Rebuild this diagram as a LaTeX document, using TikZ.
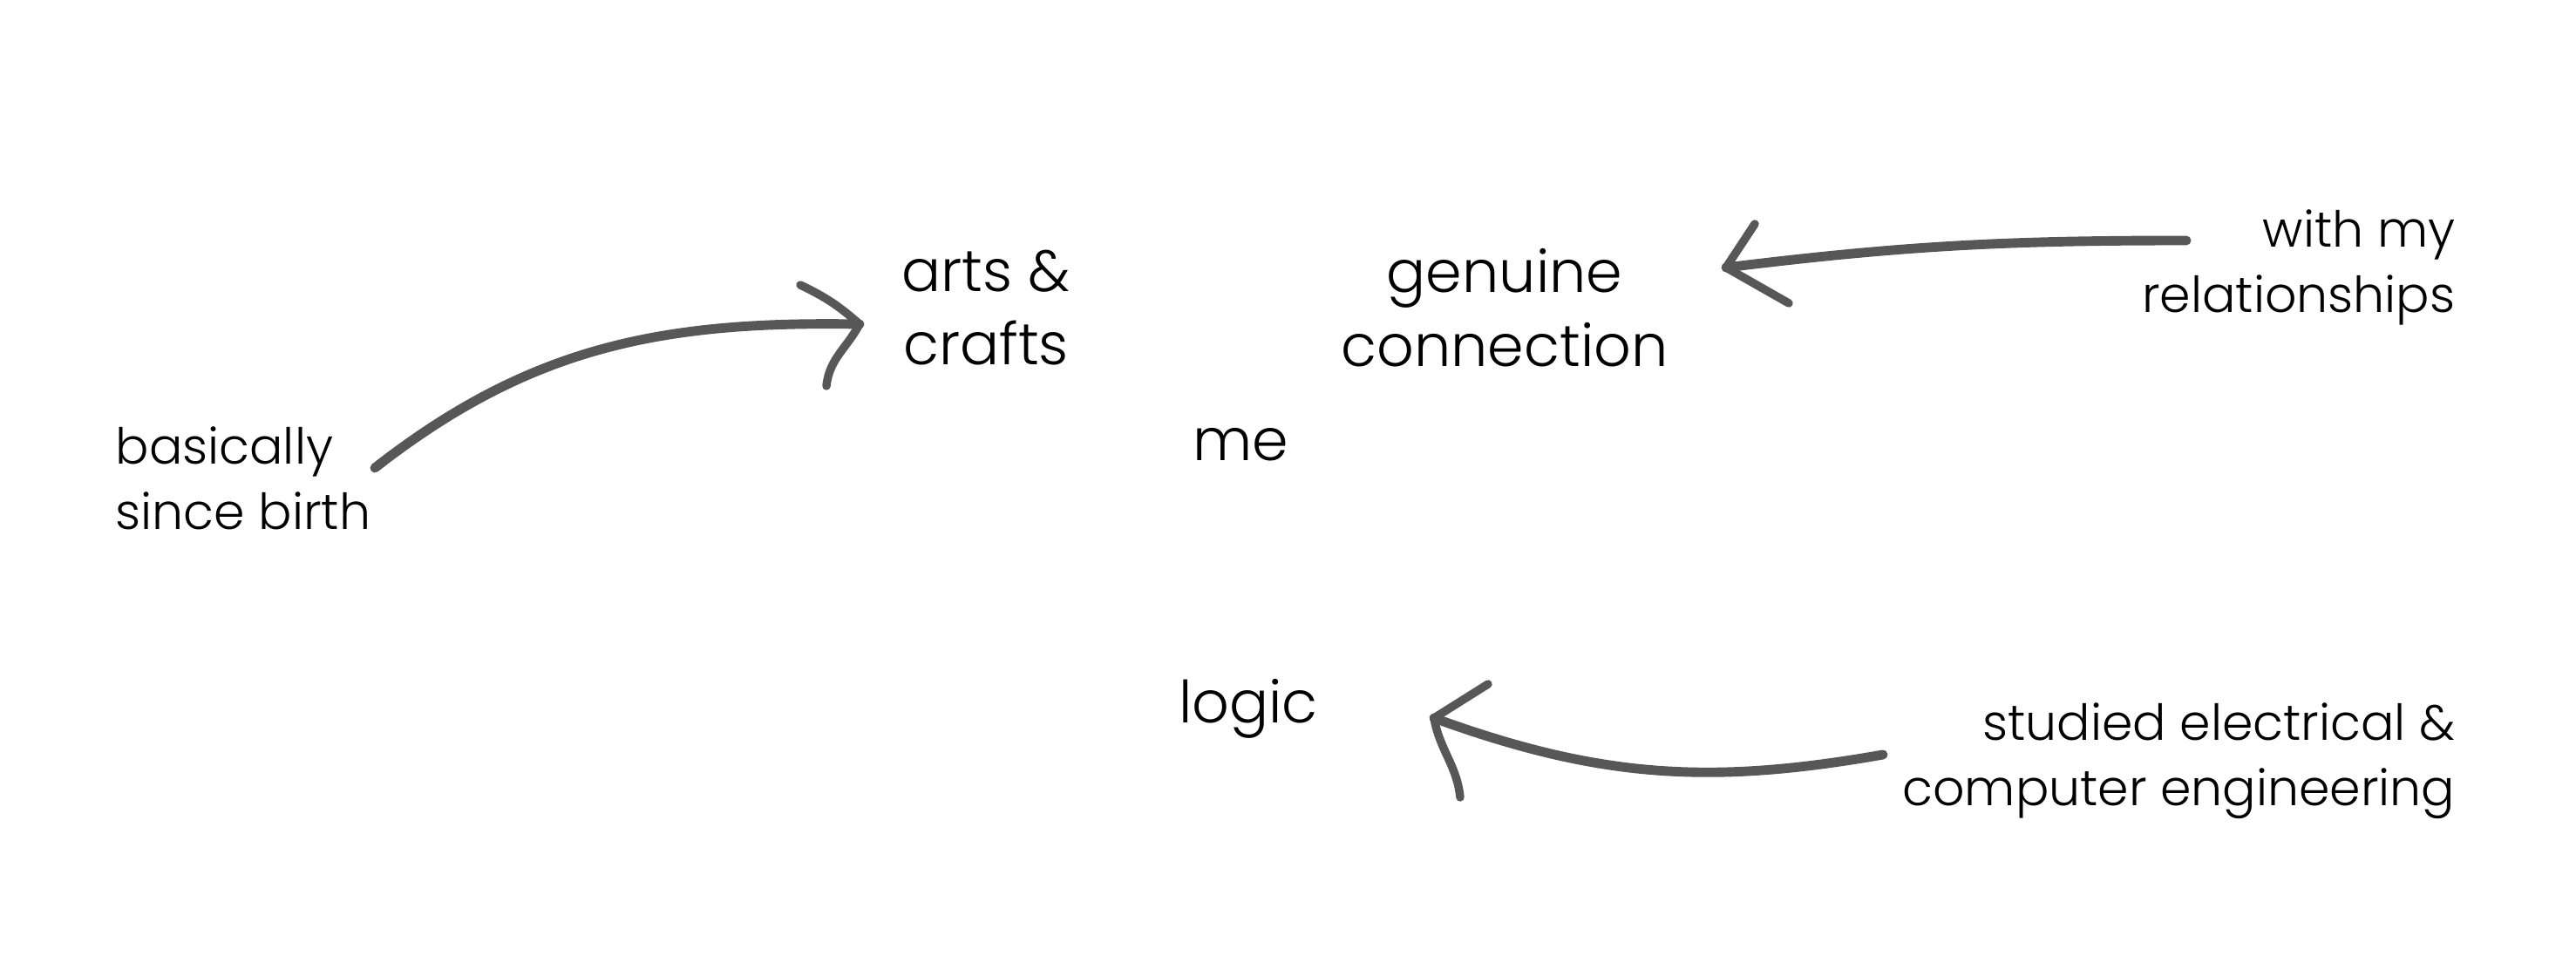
\documentclass[tikz,border=0pt]{standalone}
\usepackage{fontspec}
\IfFontExistsTF{Poppins Light}{\setmainfont{Poppins Light}}{\setmainfont{Poppins}}
\definecolor{pen}{HTML}{575757}

\begin{document}
\begin{tikzpicture}[
    word/.style={font=\fontsize{19}{24}\selectfont, align=center, inner sep=0pt},
    note/.style={font=\fontsize{16.2}{21.4}\selectfont, inner sep=0pt},
    sketch/.style={pen, line width=3.1pt, line cap=round, line join=round},
    barb/.style={pen, line width=2.7pt, line cap=round}
  ]
  \useasboundingbox (0,0) rectangle (29.55,11.2);

  % Draw the main words
  \node[word] (crafts) at (11.31,7.67) {arts \&\\crafts};
  \node[word] (conn) at (17.26,7.67) {genuine\\connection};
  \node[word] (me) at (14.23,6.10) {me};
  \node[word] (logic) at (14.32,3.07) {logic};

  % Draw the side notes
  \node[note, align=left, anchor=west] (birth) at (1.32,5.71) {basically\\since birth};
  \node[note, align=right, anchor=east] (rela) at (28.17,8.13) {with my\\relationships};
  \node[note, align=right, anchor=east] (study) at (28.17,2.47) {studied electrical \&\\computer engineering};

  % Ends of the arrows
  \coordinate (birthtail) at (4.30,5.83);
  \coordinate (craftstip) at (9.86,7.48);
  \coordinate (relatail) at (25.08,8.44);
  \coordinate (conntip) at (19.80,8.13);
  \coordinate (studytail) at (21.60,2.54);
  \coordinate (logictip) at (16.45,2.96);

  % Arrow from birth to arts & crafts
  \draw[sketch] (birthtail) to[out=38,in=179] (craftstip);
  \draw[barb] (craftstip) to[bend right=8] (9.18,7.93);
  \draw[barb] (craftstip) to[out=-118,in=84] (9.48,6.77);

  % Arrow from relationships to connection
  \draw[sketch] (relatail) to[out=180,in=7] (conntip);
  \draw[barb] (conntip) -- (20.13,8.63);
  \draw[barb] (conntip) -- (20.52,7.72);

  % Arrow from studies to logic
  \draw[sketch] (studytail) to[out=190,in=-20] (logictip);
  \draw[barb] (logictip) -- (17.07,3.35);
  \draw[barb] (logictip) to[out=-80,in=96] (16.75,2.05);
\end{tikzpicture}
\end{document}
